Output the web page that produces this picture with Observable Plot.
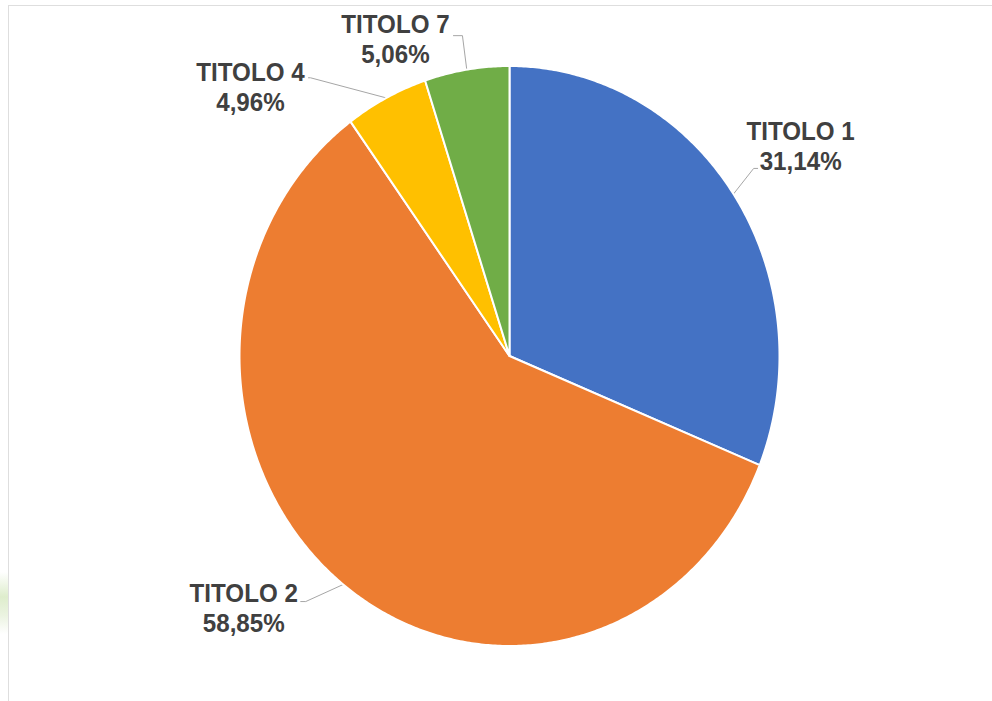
<!DOCTYPE html>
<html>
<head>
<meta charset="utf-8">
<script src="https://cdn.jsdelivr.net/npm/d3@7"></script>
<script src="https://cdn.jsdelivr.net/npm/@observablehq/plot@0.6"></script>
<style>
  html, body { margin: 0; padding: 0; background: #fff; }
  #wrap { position: relative; width: 992px; height: 701px; overflow: hidden; }
  #frame { position: absolute; left: 8px; top: 5px; right: -2px; bottom: -2px;
           border-top: 1.5px solid #dedede; border-left: 1.5px solid #dedede; pointer-events: none; }
  #smear { position: absolute; left: 0; top: 572px; width: 8px; height: 62px;
           background: linear-gradient(to bottom, rgba(255,255,255,0), rgba(200,225,170,0.6) 40%, rgba(215,232,195,0.5) 70%, rgba(255,255,255,0)); }
</style>
</head>
<body>
<div id="wrap"><div id="smear"></div><div id="chart"></div><div id="frame"></div></div>
<script>
// ---- data ----
const categories = ["TITOLO 1", "TITOLO 2", "TITOLO 4", "TITOLO 7"];
const values = [31.14, 58.85, 4.96, 5.06];
const colors = ["#4472C4", "#ED7D31", "#FFC000", "#70AD47"];

// ---- layout (label placement, Excel-style pushed labels) ----
const labelShiftDeg = [0, 10.6, -18.8, -12];      // rotation of label from slice mid-angle
const labelDist = [1.30, 1.312, 1.335, 1.173];    // radial distance (pie radius = 1)
const leaderEnd = [[-43, 23], [57, -6], [58, -9], [58, -3]];    // px offset from label centre
const leaderElbow = [[-47, 23], [62, -6], [60, -9], [67, -3]];  // px offset from label centre

const W = 992, H = 701;
const cx = 509, cy = 355.5, rx = 270, ry = 290; // pie centre / radii in px (slightly squashed)
const xDomain = [(0 - cx) / rx, (W - cx) / rx];
const yDomain = [(cy - H) / ry, (cy - 0) / ry];

const arcs = d3.pie().sort(null).value(d => d)(values);

// slice outlines
const slices = [];
arcs.forEach((a, i) => {
  const n = Math.max(4, Math.ceil((a.endAngle - a.startAngle) / (Math.PI / 360)));
  slices.push({name: categories[i], x: 0, y: 0});
  for (let k = 0; k <= n; k++) {
    const t = a.startAngle + (a.endAngle - a.startAngle) * k / n;
    slices.push({name: categories[i], x: Math.sin(t), y: Math.cos(t)});
  }
  slices.push({name: categories[i], x: 0, y: 0});
});

// labels
const fmt = v => v.toFixed(2).replace(".", ",") + "%";
const labelData = arcs.map((a, i) => {
  const mid = (a.startAngle + a.endAngle) / 2 + labelShiftDeg[i] * Math.PI / 180;
  return {name: categories[i], text: categories[i] + "\n" + fmt(values[i]),
          x: labelDist[i] * Math.sin(mid), y: labelDist[i] * Math.cos(mid)};
});

// leader lines
const leaders = [];
arcs.forEach((a, i) => {
  const mid = (a.startAngle + a.endAngle) / 2;
  const L = labelData[i];
  leaders.push({name: categories[i], x: Math.sin(mid), y: Math.cos(mid)});
  leaders.push({name: categories[i], x: L.x + leaderElbow[i][0] / rx, y: L.y - leaderElbow[i][1] / ry});
  leaders.push({name: categories[i], x: L.x + leaderEnd[i][0] / rx, y: L.y - leaderEnd[i][1] / ry});
});

const chart = Plot.plot({
  width: W, height: H,
  margin: 0, marginTop: 0, marginRight: 0, marginBottom: 0, marginLeft: 0,
  x: {domain: xDomain, range: [0, W], axis: null},
  y: {domain: yDomain, range: [H, 0], axis: null},
  color: {domain: categories, range: colors},
  style: {background: "transparent"},
  marks: [
    Plot.line(leaders, {x: "x", y: "y", z: "name", stroke: "#a6a6a6", strokeWidth: 1, curve: "linear"}),
    Plot.line(slices, {x: "x", y: "y", z: "name", fill: "name", stroke: "white", strokeWidth: 2,
                       strokeLinejoin: "round", curve: "linear-closed"}),
    Plot.text(labelData, {x: "x", y: "y", text: "text", fill: "#404040", fontSize: 26,
                          fontWeight: "bold", fontFamily: "Liberation Sans, Arial, sans-serif",
                          lineHeight: 1.15, textAnchor: "middle"})
  ]
});
document.getElementById("chart").appendChild(chart);

// horizontally condense the label text to match the squashed original
for (const t of chart.querySelectorAll('g[aria-label="text"] text')) {
  const tr = t.getAttribute("transform");
  if (tr) t.setAttribute("transform", tr + " scale(0.93,1)");
  else {
    const x = +t.getAttribute("x") || 0, y = +t.getAttribute("y") || 0;
    t.removeAttribute("x"); t.removeAttribute("y");
    t.setAttribute("transform", `translate(${x},${y}) scale(0.93,1)`);
  }
}
</script>
</body>
</html>
